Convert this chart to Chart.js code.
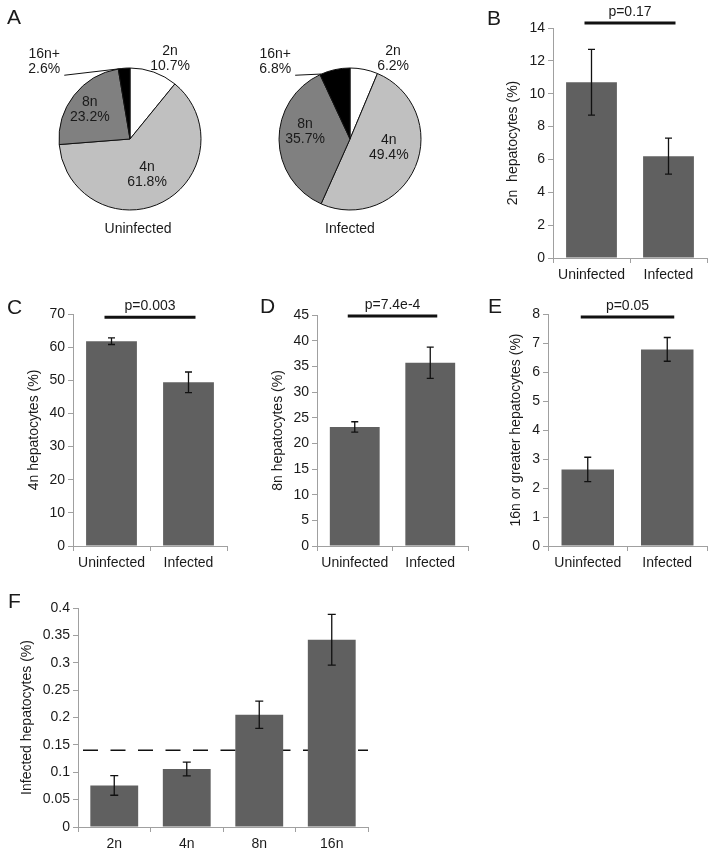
<!DOCTYPE html>
<html>
<head>
<meta charset="utf-8">
<script src="https://cdn.jsdelivr.net/npm/chart.js@4.4.0/dist/chart.umd.min.js"></script>
<style>
body{margin:0;background:#fff;width:714px;height:855px;position:relative;overflow:hidden}
canvas{position:absolute}
</style>
</head>
<body>
<canvas id="pieU" width="240" height="250" style="left:0;top:0"></canvas>
<canvas id="pieI" width="240" height="250" style="left:240px;top:0"></canvas>
<canvas id="chB" width="234" height="290" style="left:480px;top:0"></canvas>
<canvas id="chC" width="240" height="290" style="left:0;top:290px"></canvas>
<canvas id="chD" width="235" height="290" style="left:240px;top:290px"></canvas>
<canvas id="chE" width="244" height="290" style="left:470px;top:290px"></canvas>
<canvas id="chF" width="400" height="275" style="left:0;top:580px"></canvas>
<script>
// --- data ---
const ploidy=['2n','4n','8n','16n+'];
const uninfectedShare=[10.7,61.8,23.2,2.6];
const infectedShare=[6.2,49.4,35.7,6.8];

const groups=['Uninfected','Infected'];
const pct2n=[10.7,6.2],  sem2n=[2.0,1.1];
const pct4n=[61.8,49.4], sem4n=[1.0,3.1];
const pct8n=[23.2,35.7], sem8n=[1.0,3.05];
const pct16n=[2.64,6.78],sem16n=[0.42,0.41];
const pLabels=['p=0.17','p=0.003','p=7.4e-4','p=0.05'];
const pLineAt=[14.3,69.0,44.8,7.9];

const ploidyF=['2n','4n','8n','16n'];
const infectedByPloidy=[0.076,0.106,0.205,0.342];
const semByPloidy=[0.018,0.0125,0.025,0.0465];
const overallInfected=0.14;

// --- look ---
const INK='#1a1a1a',AXIS='#a0a0a0',BAR='#606060';
const FONT="'Liberation Sans', Arial, sans-serif";
Chart.defaults.font.family=FONT;
Chart.defaults.font.size=14;
Chart.defaults.color=INK;

const panelLetter={id:'panelLetter',afterDraw(chart,args,o){
  if(!o.text)return;
  const ctx=chart.ctx;ctx.save();
  ctx.font='21px '+FONT;ctx.fillStyle=INK;ctx.textBaseline='alphabetic';ctx.textAlign='left';
  ctx.fillText(o.text,o.x,o.y);ctx.restore();
}};

const errorBars={id:'errorBars',afterDatasetsDraw(chart,args,o){
  if(!o.err)return;
  const {ctx,scales:{y}}=chart, meta=chart.getDatasetMeta(0), vals=chart.data.datasets[0].data;
  ctx.save();ctx.strokeStyle='#111';ctx.lineWidth=1.3;
  meta.data.forEach((bar,i)=>{
    const y1=y.getPixelForValue(vals[i]-o.err[i]),y2=y.getPixelForValue(vals[i]+o.err[i]);
    ctx.beginPath();
    ctx.moveTo(bar.x,y1);ctx.lineTo(bar.x,y2);
    ctx.moveTo(bar.x-o.cap,y1);ctx.lineTo(bar.x+o.cap,y1);
    ctx.moveTo(bar.x-o.cap,y2);ctx.lineTo(bar.x+o.cap,y2);
    ctx.stroke();
  });
  ctx.restore();
}};

const pBar={id:'pBar',afterDraw(chart,args,o){
  if(!o.text)return;
  const {ctx,scales:{y}}=chart, d=chart.getDatasetMeta(0).data;
  const x1=d[0].x-7,x2=d[1].x+7,py=y.getPixelForValue(o.at);
  ctx.save();ctx.strokeStyle='#111';ctx.lineWidth=3;
  ctx.beginPath();ctx.moveTo(x1,py);ctx.lineTo(x2,py);ctx.stroke();
  ctx.font='14px '+FONT;ctx.fillStyle=INK;ctx.textAlign='center';ctx.textBaseline='middle';
  ctx.fillText(o.text,(x1+x2)/2,py-11);
  ctx.restore();
}};

const refLine={id:'refLine',beforeDatasetsDraw(chart,args,o){
  if(o.at==null)return;
  const {ctx,chartArea:a,scales:{y}}=chart, py=y.getPixelForValue(o.at);
  ctx.save();ctx.strokeStyle='#111';ctx.lineWidth=1.5;ctx.setLineDash([15,12.5]);
  ctx.beginPath();ctx.moveTo(a.left+5,py);ctx.lineTo(a.right,py);ctx.stroke();
  ctx.restore();
}};

const pieText={id:'pieText',afterDatasetsDraw(chart,args,o){
  const {ctx}=chart, arcs=chart.getDatasetMeta(0).data, vals=chart.data.datasets[0].data;
  ctx.save();ctx.font='14px '+FONT;ctx.fillStyle=INK;ctx.textAlign='center';ctx.textBaseline='middle';
  arcs.forEach((arc,i)=>{
    const [deg,f]=o.pos[i], a=deg*Math.PI/180, r=arc.outerRadius;
    const lx=arc.x+f*r*Math.sin(a), ly=arc.y-f*r*Math.cos(a);
    ctx.fillText(chart.data.labels[i],lx,ly-7.5);
    ctx.fillText(vals[i].toFixed(1)+'%',lx,ly+7.5);
    if(i===o.leader){
      const s=arc.startAngle+0.02;
      ctx.strokeStyle='#111';ctx.lineWidth=1;
      ctx.beginPath();ctx.moveTo(lx+20,ly+14);
      ctx.lineTo(arc.x+r*Math.cos(s),arc.y+r*Math.sin(s));ctx.stroke();
    }
  });
  ctx.fillText(o.caption,arcs[0].x+o.captionDx,o.captionY);
  ctx.restore();
}};

function pieChart(id,share,o){
  return new Chart(document.getElementById(id),{
    type:'pie',
    data:{labels:ploidy,datasets:[{data:share,backgroundColor:['#ffffff','#c0c0c0','#808080','#000000'],borderColor:'#111',borderWidth:1}]},
    options:{responsive:false,animation:false,events:[],radius:71,
      layout:{padding:o.pad},
      plugins:{legend:{display:false},tooltip:{enabled:false},
        pieText:{pos:o.pos,leader:3,caption:o.caption,captionDx:o.captionDx,captionY:229},
        panelLetter:o.letter||{}}},
    plugins:[pieText,panelLetter]
  });
}

function barChart(id,cats,vals,errs,o){
  return new Chart(document.getElementById(id),{
    type:'bar',
    data:{labels:cats,datasets:[{data:vals,backgroundColor:BAR,barPercentage:0.66,categoryPercentage:1}]},
    options:{responsive:false,animation:false,events:[],
      layout:{padding:{top:o.padTop,right:o.padRight,left:0,bottom:0}},
      plugins:{legend:{display:false},tooltip:{enabled:false},
        errorBars:{err:errs,cap:o.cap||3.5},
        pBar:o.p||{},
        refLine:{at:o.ref},
        panelLetter:o.letter},
      scales:{
        x:{grid:{offset:true,drawOnChartArea:false,tickLength:5,color:AXIS},border:{color:AXIS},
           ticks:{color:INK,padding:4,maxRotation:0,autoSkip:false},
           afterFit:s=>{s.height=o.xH;}},
        y:{min:0,max:o.max,grid:{drawOnChartArea:false,tickLength:5,color:AXIS},border:{color:AXIS},
           ticks:{stepSize:o.step,color:INK,padding:3,callback:v=>String(+v.toFixed(2))},
           title:{display:true,text:o.title,color:INK,padding:{top:o.titlePad,bottom:0}},
           afterFit:s=>{s.width=o.yW;}}
      }},
    plugins:[errorBars,pBar,refLine,panelLetter]
  });
}

pieChart('pieU',uninfectedShare,{pad:{left:59,right:39,top:68,bottom:40},
  pos:[[26.6,1.26],[154.7,0.56],[-54,0.70],[-47.8,1.63]],caption:'Uninfected',captionDx:8,
  letter:{text:'A',x:7,y:24}});
pieChart('pieI',infectedShare,{pad:{left:39,right:59,top:68,bottom:40},
  pos:[[28.3,1.28],[103,0.56],[-81,0.64],[-43.9,1.52]],caption:'Infected',captionDx:0});

barChart('chB',groups,pct2n,sem2n,{max:14,step:2,title:'2n  hepatocytes (%)',titlePad:24.8,
  yW:73,xH:32,padTop:28,padRight:7,p:{text:pLabels[0],at:pLineAt[0]},letter:{text:'B',x:7,y:25}});
barChart('chC',groups,pct4n,sem4n,{max:70,step:10,title:'4n hepatocytes (%)',titlePad:25.4,
  yW:73,xH:34,padTop:24,padRight:13,p:{text:pLabels[1],at:pLineAt[1]},letter:{text:'C',x:7,y:24}});
barChart('chD',groups,pct8n,sem8n,{max:45,step:5,title:'8n hepatocytes (%)',titlePad:29.8,
  yW:77,xH:34,padTop:25,padRight:7,p:{text:pLabels[2],at:pLineAt[2]},letter:{text:'D',x:20,y:23}});
barChart('chE',groups,pct16n,sem16n,{max:8,step:1,title:'16n or greater hepatocytes (%)',titlePad:37.3,
  yW:78,xH:34,padTop:24,padRight:7,p:{text:pLabels[3],at:pLineAt[3]},letter:{text:'E',x:18,y:23}});
barChart('chF',ploidyF,infectedByPloidy,semByPloidy,{max:0.4,step:0.05,title:'Infected hepatocytes (%)',titlePad:18.6,
  yW:78,xH:28,padTop:28,padRight:32,cap:4,ref:overallInfected,letter:{text:'F',x:8,y:28}});
</script>
</body>
</html>
